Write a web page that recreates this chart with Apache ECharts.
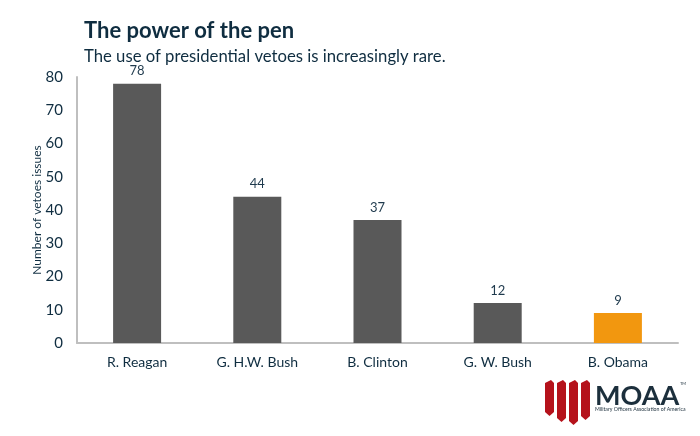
<!DOCTYPE html>
<html><head><meta charset="utf-8">
<script src="https://cdn.jsdelivr.net/npm/echarts@6/dist/echarts.min.js"></script>
<style>html,body{margin:0;padding:0;background:#fff}#c{width:700px;height:436px}</style>
</head><body><div id="c"></div>
<script>
const categories = ['R. Reagan', 'G. H.W. Bush', 'B. Clinton', 'G. W. Bush', 'B. Obama'];
const vetoes = [78, 44, 37, 12, 9];
const barColors = ['#595959', '#595959', '#595959', '#595959', '#F2970F'];
const yTicks = [0, 10, 20, 30, 40, 50, 60, 70, 80];

const chart = echarts.init(document.getElementById('c'));
const navy = '#0f2d40';
const red = '#B5121B';
function stripe(x, yb) {
  return { type: 'polygon', shape: { points: [[x,3],[x+6,0],[x+9,3],[x+9,yb-4],[x+4.5,yb],[x,yb-4]] }, style: { fill: red } };
}
chart.setOption({
  animation: false,
  backgroundColor: '#fff',
  title: [
    { text: 'The power of the pen', left: 79, top: 15, textStyle: { fontFamily: 'Lato', fontSize: 22, fontWeight: 'bold', color: navy } },
    { text: 'The use of presidential vetoes is increasingly rare.', left: 79, top: 43, textStyle: { fontFamily: 'Lato', fontSize: 16.7, fontWeight: 'normal', color: navy } }
  ],
  grid: { left: 77, right: 22, top: 77, bottom: 93 },
  xAxis: {
    type: 'category', data: categories,
    axisLine: { lineStyle: { color: '#bfbfbf', width: 2 } },
    axisTick: { show: false },
    axisLabel: { fontFamily: 'Lato', fontSize: 14, color: navy, margin: 12 }
  },
  yAxis: {
    type: 'value', min: yTicks[0], max: yTicks[yTicks.length - 1], interval: 10,
    name: 'Number of vetoes issues', nameLocation: 'middle', nameGap: 34, nameMoveOverlap: false,
    nameTextStyle: { fontFamily: 'Lato', fontSize: 12, color: navy },
    axisLine: { show: true, lineStyle: { color: '#bfbfbf', width: 2 } },
    axisTick: { show: false },
    splitLine: { show: false },
    axisLabel: { fontFamily: 'Lato', fontSize: 15, color: navy, margin: 14 }
  },
  series: [{
    type: 'bar', barWidth: 48,
    data: vetoes.map((v, i) => ({ value: v, itemStyle: { color: barColors[i] } })),
    label: { show: true, position: 'top', distance: 6, fontFamily: 'Lato', fontSize: 13, color: '#1f3a4d' }
  }],
  graphic: [
    { type: 'group', left: 545, top: 380, children: [
      stripe(0, 36), stripe(12, 42), stripe(24, 45), stripe(36, 40),
      { type: 'text', x: 50, y: 3, style: { text: 'MOAA', fontFamily: 'Lato', fontWeight: 'bold', fontSize: 27, fill: '#1c2f3c' } },
      { type: 'text', x: 135, y: 2, style: { text: 'TM', fontFamily: 'Lato', fontSize: 4, fill: '#1c2f3c' } },
      { type: 'text', x: 50, y: 27, style: { text: 'Military Officers Association of America', fontFamily: 'Lato', fontSize: 5.2, fill: '#1c2f3c' } }
    ]}
  ]
});
</script></body></html>
